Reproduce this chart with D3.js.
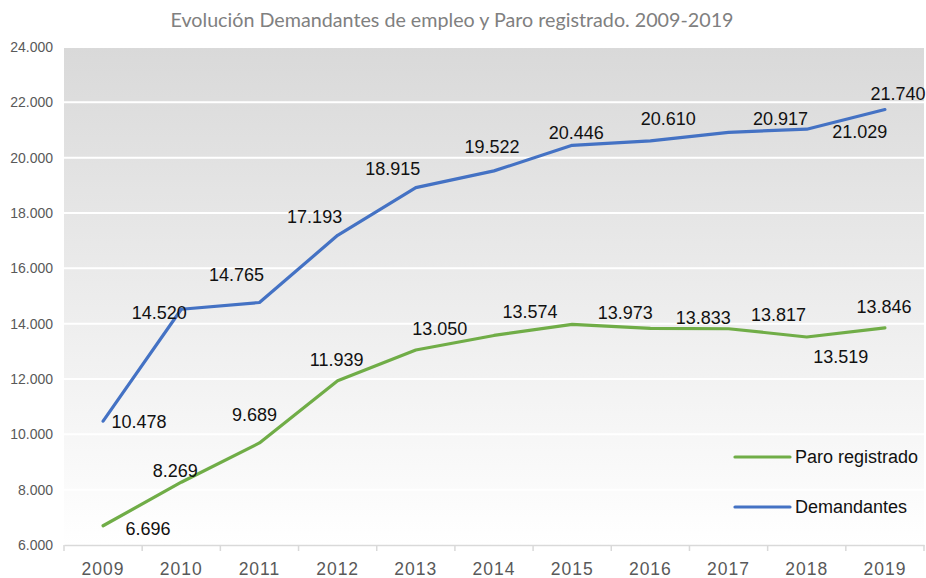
<!DOCTYPE html>
<html>
<head>
<meta charset="utf-8">
<script src="https://cdn.jsdelivr.net/npm/d3@7"></script>
<style>
  body { margin: 0; background: #fff; }
  svg { display: block; }
</style>
</head>
<body>
<div id="chart"></div>
<script>
// data
var years = ["2009", "2010", "2011", "2012", "2013", "2014", "2015", "2016", "2017", "2018", "2019"];
var demandantes = [10478, 14520, 14765, 17193, 18915, 19522, 20446, 20610, 20917, 21029, 21740];
var paro = [6696, 8269, 9689, 11939, 13050, 13574, 13973, 13833, 13817, 13519, 13846];
var yTicks = [6000, 8000, 10000, 12000, 14000, 16000, 18000, 20000, 22000, 24000];

// where each data label sits relative to its point (dx, dy), as in the original
var demLabelOffsets = [[36, 1], [-22, 3], [-23, -28], [-23, -19], [-23, -19], [-2, -24],
                       [4, -13], [18, -22], [52, -14], [53, 3], [13, -16]];
var paroLabelOffsets = [[45, 3], [-6, -12], [-5, -28], [-1, -21], [24, -21], [36, -24],
                        [53, -12], [53, -11], [50, -14], [34, 20], [-1, -21]];

var width = 926, height = 578;
// note: "top" is taken by window.top, so plot edges get their own names
var plotLeft = 64, plotRight = 924, plotTop = 47, plotBottom = 545;

var es = d3.formatLocale({decimal: ",", thousands: ".", grouping: [3], currency: ["", "€"]});
var fmt = es.format(",d");

var svg = d3.select("#chart").append("svg")
    .attr("width", width)
    .attr("height", height);

var x = d3.scaleBand().domain(years).range([plotLeft, plotRight]);
var y = d3.scaleLinear().domain([6000, 24000]).range([plotBottom, plotTop]);

// plot background, grey on top fading to white
var grad = svg.append("defs").append("linearGradient")
    .attr("id", "bg").attr("x1", 0).attr("y1", 0).attr("x2", 0).attr("y2", 1);
grad.append("stop").attr("offset", "0%").attr("stop-color", "#d9d9d9");
grad.append("stop").attr("offset", "100%").attr("stop-color", "#ffffff");

svg.append("rect")
    .attr("x", plotLeft).attr("y", plotTop)
    .attr("width", plotRight - plotLeft).attr("height", plotBottom - plotTop)
    .attr("fill", "url(#bg)");

// gridlines
svg.append("g").selectAll("line")
    .data(yTicks.slice(1))
    .join("line")
    .attr("x1", plotLeft).attr("x2", plotRight)
    .attr("y1", function(d) { return y(d); })
    .attr("y2", function(d) { return y(d); })
    .attr("stroke", "#ffffff")
    .attr("stroke-width", 2);

// y tick labels
svg.append("g").selectAll("text")
    .data(yTicks)
    .join("text")
    .attr("x", 53)
    .attr("y", function(d) { return y(d); })
    .attr("dy", "0.35em")
    .attr("text-anchor", "end")
    .attr("font-family", "Liberation Sans, Arial, sans-serif")
    .attr("font-size", 14)
    .attr("fill", "#595959")
    .text(function(d) { return fmt(d); });

// x axis: line, ticks between categories, labels
var xAxis = svg.append("g").attr("transform", "translate(0," + plotBottom + ")")
    .call(d3.axisBottom(x).tickSize(0).tickPadding(18));
xAxis.select(".domain").attr("stroke", "#d9d9d9").attr("stroke-width", 1.5);
xAxis.selectAll("text")
    .attr("font-family", "Liberation Sans, Arial, sans-serif")
    .attr("font-size", 17.5)
    .attr("letter-spacing", 1)
    .attr("fill", "#595959");

var bounds = years.map(function(d) { return x(d); }).concat([plotRight]);
svg.append("g").selectAll("line")
    .data(bounds)
    .join("line")
    .attr("x1", function(d) { return d; }).attr("x2", function(d) { return d; })
    .attr("y1", plotBottom).attr("y2", plotBottom + 6)
    .attr("stroke", "#d9d9d9")
    .attr("stroke-width", 1.5);

// lines
var cx = function(i) { return x(years[i]) + x.bandwidth() / 2; };
var line = d3.line()
    .x(function(d, i) { return cx(i); })
    .y(function(d) { return y(d); });

var series = [
  {name: "Demandantes", values: demandantes, color: "#4472c4", offsets: demLabelOffsets},
  {name: "Paro registrado", values: paro, color: "#70ad47", offsets: paroLabelOffsets}
];

series.forEach(function(s) {
  svg.append("path")
      .datum(s.values)
      .attr("d", line)
      .attr("fill", "none")
      .attr("stroke", s.color)
      .attr("stroke-width", 3.2)
      .attr("stroke-linejoin", "round")
      .attr("stroke-linecap", "round");
});

series.forEach(function(s) {
  svg.append("g").selectAll("text")
      .data(s.values)
      .join("text")
      .attr("x", function(d, i) { return cx(i) + s.offsets[i][0]; })
      .attr("y", function(d, i) { return y(d) + s.offsets[i][1]; })
      .attr("dy", "0.35em")
      .attr("text-anchor", "middle")
      .attr("font-family", "Liberation Sans, Arial, sans-serif")
      .attr("font-size", 18)
      .attr("fill", "#111")
      .text(function(d) { return fmt(d); });
});

// legend
var legend = svg.append("g");
var legendItems = [series[1], series[0]];
legendItems.forEach(function(s, i) {
  var ly = 457 + i * 50;
  legend.append("line")
      .attr("x1", 735).attr("x2", 790)
      .attr("y1", ly).attr("y2", ly)
      .attr("stroke", s.color)
      .attr("stroke-width", 3.2)
      .attr("stroke-linecap", "round");
  legend.append("text")
      .attr("x", 795).attr("y", ly)
      .attr("dy", "0.35em")
      .attr("font-family", "Liberation Sans, Arial, sans-serif")
      .attr("font-size", 18)
      .attr("fill", "#111")
      .text(s.name);
});

// title
svg.append("text")
    .attr("x", 452)
    .attr("y", 20)
    .attr("dy", "0.35em")
    .attr("text-anchor", "middle")
    .attr("font-family", "Lato, 'Open Sans', sans-serif")
    .attr("font-size", 19)
    .attr("textLength", 563)
    .attr("lengthAdjust", "spacingAndGlyphs")
    .attr("fill", "#808080")
    .text("Evolución Demandantes de empleo y Paro registrado. 2009-2019");
</script>
</body>
</html>
